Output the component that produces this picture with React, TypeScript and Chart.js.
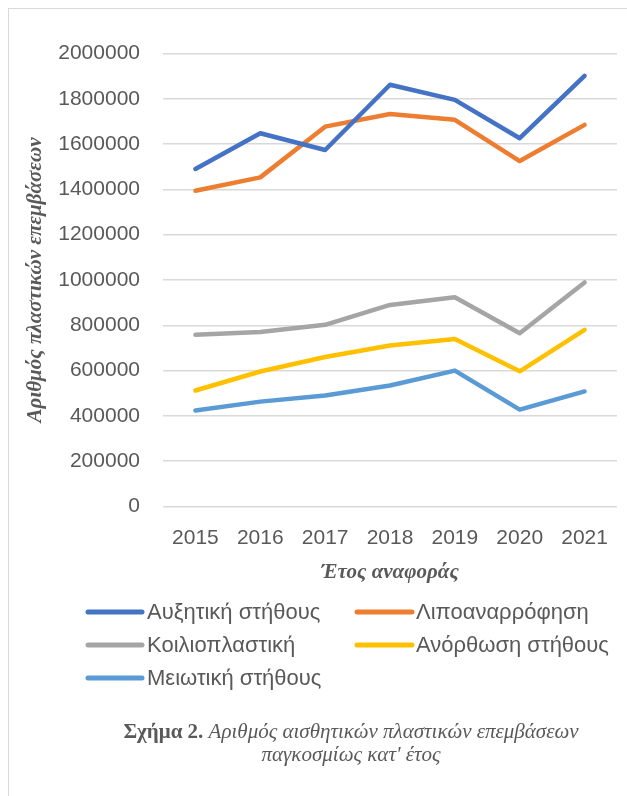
import React, { useEffect, useRef } from "react";
import { Chart, registerables } from "chart.js";

Chart.register(...registerables);

const years = ["2015", "2016", "2017", "2018", "2019", "2020", "2021"];
const seriesNames = [
  "Αυξητική στήθους",
  "Λιποαναρρόφηση",
  "Κοιλιοπλαστική",
  "Ανόρθωση στήθους",
  "Μειωτική στήθους",
];
const augmentation = [1490000, 1648000, 1574000, 1862000, 1795000, 1626000, 1901000];
const liposuction = [1394000, 1453000, 1677000, 1733000, 1707000, 1525000, 1685000];
const abdominoplasty = [758000, 770000, 802000, 890000, 924000, 765000, 989000];
const breastLift = [512000, 596000, 660000, 711000, 740000, 597000, 780000];
const breastReduction = [424000, 463000, 490000, 534000, 600000, 428000, 508000];
const seriesColors = ["#4472C4", "#ED7D31", "#A5A5A5", "#FFC000", "#5B9BD5"];
const yMin = 0;
const yMax = 2000000;
const yStep = 200000;
const yTitle = "Αριθμός πλαστικών επεμβάσεων";
const xTitle = "Έτος αναφοράς";

const TEXT = "#595959";
const SANS = "'Liberation Sans', Arial, sans-serif";
const SERIF = "'Liberation Serif', 'Times New Roman', serif";

const legendPlugin = {
  id: "gridLegend",
  afterDraw(chart: any) {
    const ctx = chart.ctx;
    const rows = [612, 645, 678];
    const cols = [
      { x0: 88, x1: 142, tx: 147 },
      { x0: 357, x1: 412, tx: 416 },
    ];
    ctx.save();
    chart.data.datasets.forEach((ds: any, i: number) => {
      const c = cols[i % 2];
      const y = rows[Math.floor(i / 2)];
      ctx.strokeStyle = ds.borderColor;
      ctx.lineWidth = 5;
      ctx.lineCap = "round";
      ctx.beginPath();
      ctx.moveTo(c.x0, y);
      ctx.lineTo(c.x1, y);
      ctx.stroke();
      ctx.fillStyle = TEXT;
      ctx.font = `22px ${SANS}`;
      ctx.textBaseline = "middle";
      ctx.textAlign = "left";
      ctx.fillText(ds.label, c.tx, y + 1);
    });
    ctx.restore();
  },
};

export default function App() {
  const ref = useRef<HTMLCanvasElement>(null);
  useEffect(() => {
    if (!ref.current) return;
    const values = [augmentation, liposuction, abdominoplasty, breastLift, breastReduction];
    const chart = new Chart(ref.current, {
      type: "line",
      data: {
        labels: years,
        datasets: values.map((v, i) => ({
          label: seriesNames[i],
          data: v,
          borderColor: seriesColors[i],
          backgroundColor: seriesColors[i],
          borderWidth: 4.5,
          borderCapStyle: "round",
          borderJoinStyle: "round",
          pointRadius: 0,
          pointHoverRadius: 0,
          tension: 0,
          fill: false,
        })),
      },
      options: {
        animation: false,
        responsive: false,
        maintainAspectRatio: false,
        devicePixelRatio: 1,
        layout: { padding: { left: 0, right: 1, top: 53.5, bottom: 133.5 } },
        plugins: {
          legend: { display: false },
          tooltip: { enabled: false },
        },
        scales: {
          x: {
            offset: true,
            grid: { display: false, drawTicks: false },
            border: { display: false },
            ticks: {
              color: TEXT,
              font: { family: SANS, size: 21 },
              padding: 19,
              maxRotation: 0,
            },
            title: {
              display: true,
              text: xTitle,
              color: TEXT,
              font: { family: SERIF, size: 21, style: "italic", weight: "bold" },
              padding: { top: 0, bottom: 1 },
            },
            afterFit(scale: any) {
              scale.height = 80;
            },
          },
          y: {
            min: yMin,
            max: yMax,
            grid: { color: "#d9d9d9", lineWidth: 1.5, drawTicks: false },
            border: { display: false },
            ticks: {
              stepSize: yStep,
              color: TEXT,
              font: { family: SANS, size: 21 },
              padding: 23,
              callback: (v: any) => String(v),
            },
            title: {
              display: true,
              text: yTitle,
              color: TEXT,
              font: { family: SERIF, size: 21, style: "italic", weight: "bold" },
              padding: { top: 23, bottom: 0 },
            },
            afterFit(scale: any) {
              scale.width = 163;
            },
          },
        },
      },
      plugins: [legendPlugin],
    } as any);
    return () => chart.destroy();
  }, []);

  return (
    <div
      style={{
        position: "fixed",
        left: 0,
        top: 0,
        width: 627,
        height: 796,
        overflow: "hidden",
        background: "#ffffff",
      }}
    >
      <div
        style={{
          position: "absolute",
          left: 8,
          top: 8,
          width: 700,
          height: 900,
          border: "1.5px solid #d9d9d9",
          boxSizing: "border-box",
        }}
      />
      <canvas
        ref={ref}
        width={627}
        height={720}
        style={{ position: "absolute", left: 0, top: 0, width: 627, height: 720 }}
      />
      <div
        style={{
          position: "absolute",
          left: 51,
          top: 720,
          width: 600,
          textAlign: "center",
          fontFamily: SERIF,
          fontSize: 21,
          lineHeight: "23px",
          color: TEXT,
        }}
      >
        <span style={{ fontWeight: "bold" }}>Σχήμα 2.</span>{" "}
        <span style={{ fontStyle: "italic" }}>Αριθμός αισθητικών πλαστικών επεμβάσεων</span>
        <br />
        <span style={{ fontStyle: "italic" }}>παγκοσμίως κατ' έτος</span>
      </div>
    </div>
  );
}
